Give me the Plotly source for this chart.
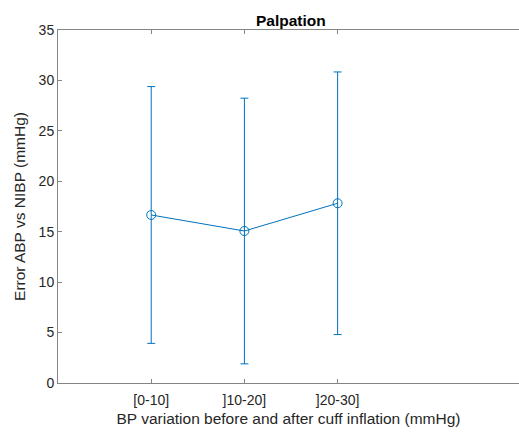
import plotly.graph_objects as go

# Bins of BP variation and the mean error (with symmetric spread) per bin
categories = ["[0-10]", "]10-20]", "]20-30]"]
positions = [1, 2, 3]
mean_error = [16.66, 15.07, 17.82]
spread = [12.73, 13.17, 13.02]

y_ticks = [0, 5, 10, 15, 20, 25, 30, 35]

blue = "rgb(0,114,189)"
axis_grey = "#858585"
text_grey = "#262626"
font_family = "Liberation Sans, Arial, sans-serif"

fig = go.Figure()
fig.add_trace(go.Scatter(
    x=positions,
    y=mean_error,
    mode="lines+markers",
    line=dict(color=blue, width=1),
    marker=dict(symbol="circle-open", size=9, color=blue, line=dict(width=1, color=blue)),
    error_y=dict(type="data", array=spread, symmetric=True, color=blue, thickness=1, width=4),
    showlegend=False,
    hoverinfo="skip",
))

fig.update_layout(
    width=519,
    height=435,
    margin=dict(l=58, r=0, t=30, b=52),
    paper_bgcolor="white",
    plot_bgcolor="white",
    font=dict(family=font_family, size=14, color=text_grey),
    title=dict(
        text="<b>Palpation</b>",
        x=0.505, xref="paper", xanchor="center",
        y=1, yref="paper", yanchor="bottom", pad=dict(b=4),
        font=dict(family=font_family, size=15.5, color="black"),
    ),
    xaxis=dict(
        range=[0, 4.946],
        tickmode="array",
        tickvals=positions,
        ticktext=categories,
        ticks="inside",
        ticklen=4,
        tickcolor=axis_grey,
        showline=True,
        linecolor=axis_grey,
        linewidth=1,
        mirror="ticks",
        showgrid=False,
        zeroline=False,
        tickfont=dict(size=14, color=text_grey),
        ticklabelstandoff=4,
        title=dict(text="BP variation before and after cuff inflation (mmHg)",
                   font=dict(size=15.5, color=text_grey), standoff=6),
    ),
    yaxis=dict(
        range=[0, 35],
        tickmode="array",
        tickvals=y_ticks,
        ticks="inside",
        ticklen=4,
        tickcolor=axis_grey,
        showline=True,
        linecolor=axis_grey,
        linewidth=1,
        mirror=False,
        showgrid=False,
        zeroline=False,
        tickfont=dict(size=14, color=text_grey),
        title=dict(text="Error ABP vs NIBP (mmHg)",
                   font=dict(size=15.5, color=text_grey), standoff=9),
    ),
)

fig.write_html("out.html")
